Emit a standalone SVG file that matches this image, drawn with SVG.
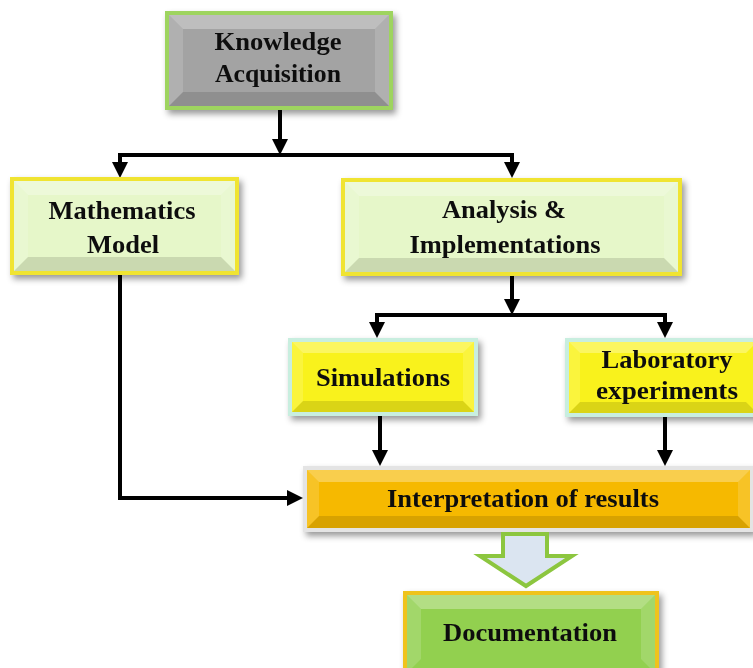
<svg xmlns="http://www.w3.org/2000/svg" width="753" height="668" viewBox="0 0 753 668">
  <style>
    .lbl { font-family: "Liberation Serif", "Times New Roman", serif; font-weight: bold; font-size: 26px; fill: #111; text-anchor: middle; }
    .hi { fill: #ffffff; fill-opacity: 0.3; }
    .lo { fill: #000000; fill-opacity: 0.12; }
    .side { fill: #ffffff; fill-opacity: 0.15; }
    .edge { fill: none; stroke-width: 4; }
    .wire { fill: none; stroke: #000; stroke-width: 4; stroke-linejoin: miter; }
  </style>
  <defs>
    <filter id="shadow" x="-10%" y="-10%" width="125%" height="130%">
      <feDropShadow dx="3" dy="4" stdDeviation="3" flood-color="#000" flood-opacity="0.4"/>
    </filter>
    <marker id="arrow" viewBox="0 0 16 16" refX="3" refY="8" markerWidth="16" markerHeight="16" markerUnits="userSpaceOnUse" orient="auto">
      <path d="M0,0 L16,8 L0,16 z" fill="#000"/>
    </marker>
  </defs>

  <rect width="753" height="668" fill="#fff"/>

  <!-- connectors -->
  <g id="connectors">
    <path class="wire" d="M280,108 V142" marker-end="url(#arrow)"/>
    <path class="wire" d="M282,155 H120 V165" marker-end="url(#arrow)"/>
    <path class="wire" d="M278,155 H512 V165" marker-end="url(#arrow)"/>
    <path class="wire" d="M512,274 V302" marker-end="url(#arrow)"/>
    <path class="wire" d="M514,315 H377 V325" marker-end="url(#arrow)"/>
    <path class="wire" d="M510,315 H665 V325" marker-end="url(#arrow)"/>
    <path class="wire" d="M380,415 V453" marker-end="url(#arrow)"/>
    <path class="wire" d="M665,416 V453" marker-end="url(#arrow)"/>
    <path class="wire" d="M120,273 V498 H290" marker-end="url(#arrow)"/>
  </g>

  <!-- Knowledge Acquisition -->
  <g id="knowledge" filter="url(#shadow)">
    <rect x="167" y="13" width="224" height="95" fill="#a3a3a3"/>
    <polygon class="hi" points="167,13 391,13 375,29 183,29"/>
    <polygon class="side" points="167,13 183,29 183,92 167,108"/>
    <polygon class="side" points="391,13 391,108 375,92 375,29"/>
    <polygon class="lo" points="167,108 183,92 375,92 391,108"/>
    <rect class="edge" x="167" y="13" width="224" height="95" stroke="#9ed45e"/>
    <text class="lbl" x="278" y="50" textLength="127" lengthAdjust="spacingAndGlyphs">Knowledge</text>
    <text class="lbl" x="278" y="82" textLength="126" lengthAdjust="spacingAndGlyphs">Acquisition</text>
  </g>

  <!-- Mathematics Model -->
  <g id="math-model" filter="url(#shadow)">
    <rect x="12" y="179" width="225" height="94" fill="#e6f7c9"/>
    <polygon class="hi" points="12,179 237,179 221,195 28,195"/>
    <polygon class="side" points="12,179 28,195 28,257 12,273"/>
    <polygon class="side" points="237,179 237,273 221,257 221,195"/>
    <polygon class="lo" points="12,273 28,257 221,257 237,273"/>
    <rect class="edge" x="12" y="179" width="225" height="94" stroke="#f0e431"/>
    <text class="lbl" x="122" y="219" textLength="147" lengthAdjust="spacingAndGlyphs">Mathematics</text>
    <text class="lbl" x="123" y="253" textLength="72" lengthAdjust="spacingAndGlyphs">Model</text>
  </g>

  <!-- Analysis & Implementations -->
  <g id="analysis" filter="url(#shadow)">
    <rect x="343" y="180" width="337" height="94" fill="#e6f7c9"/>
    <polygon class="hi" points="343,180 680,180 664,196 359,196"/>
    <polygon class="side" points="343,180 359,196 359,258 343,274"/>
    <polygon class="side" points="680,180 680,274 664,258 664,196"/>
    <polygon class="lo" points="343,274 359,258 664,258 680,274"/>
    <rect class="edge" x="343" y="180" width="337" height="94" stroke="#f0e431"/>
    <text class="lbl" x="504" y="218" textLength="124" lengthAdjust="spacingAndGlyphs">Analysis &amp;</text>
    <text class="lbl" x="505" y="253" textLength="191" lengthAdjust="spacingAndGlyphs">Implementations</text>
  </g>

  <!-- Simulations -->
  <g id="simulations" filter="url(#shadow)">
    <rect x="290" y="340" width="186" height="74" fill="#f9f21c"/>
    <polygon class="hi" points="290,340 476,340 463,353 303,353"/>
    <polygon class="side" points="290,340 303,353 303,401 290,414"/>
    <polygon class="side" points="476,340 476,414 463,401 463,353"/>
    <polygon class="lo" points="290,414 303,401 463,401 476,414"/>
    <rect class="edge" x="290" y="340" width="186" height="74" stroke="#c8eedf"/>
    <text class="lbl" x="383" y="386" textLength="134" lengthAdjust="spacingAndGlyphs">Simulations</text>
  </g>

  <!-- Laboratory experiments -->
  <g id="laboratory" filter="url(#shadow)">
    <rect x="567" y="340" width="192" height="75" fill="#f9f21c"/>
    <polygon class="hi" points="567,340 759,340 746,353 580,353"/>
    <polygon class="side" points="567,340 580,353 580,402 567,415"/>
    <polygon class="lo" points="567,415 580,402 746,402 759,415"/>
    <rect class="edge" x="567" y="340" width="192" height="75" stroke="#c8eedf"/>
    <text class="lbl" x="667" y="368" textLength="131" lengthAdjust="spacingAndGlyphs">Laboratory</text>
    <text class="lbl" x="667" y="399" textLength="142" lengthAdjust="spacingAndGlyphs">experiments</text>
  </g>

  <!-- Interpretation of results -->
  <g id="interpretation" filter="url(#shadow)">
    <rect x="305" y="468" width="447" height="62" fill="#f6b902"/>
    <polygon class="hi" points="305,468 752,468 738,482 319,482"/>
    <polygon class="side" points="305,468 319,482 319,516 305,530"/>
    <polygon class="side" points="752,468 752,530 738,516 738,482"/>
    <polygon class="lo" points="305,530 319,516 738,516 752,530"/>
    <rect class="edge" x="305" y="468" width="447" height="62" stroke="#e4e4e4"/>
    <text class="lbl" x="523" y="507" textLength="272" lengthAdjust="spacingAndGlyphs">Interpretation of results</text>
  </g>

  <!-- block arrow down to documentation -->
  <g id="flow-arrow">
    <polygon points="503,534 547,534 547,556 572,556 526,586 480,556 503,556" fill="#dbe5f1" stroke="#8cc63f" stroke-width="4" stroke-linejoin="miter"/>
  </g>

  <!-- Documentation -->
  <g id="documentation" filter="url(#shadow)">
    <rect x="405" y="593" width="252" height="82" fill="#92d050"/>
    <polygon class="hi" points="405,593 657,593 641,609 421,609"/>
    <polygon class="side" points="405,593 421,609 421,659 405,675"/>
    <polygon class="side" points="657,593 657,675 641,659 641,609"/>
    <rect class="edge" x="405" y="593" width="252" height="82" stroke="#efc31c"/>
    <text class="lbl" x="530" y="641" textLength="174" lengthAdjust="spacingAndGlyphs">Documentation</text>
  </g>
</svg>
